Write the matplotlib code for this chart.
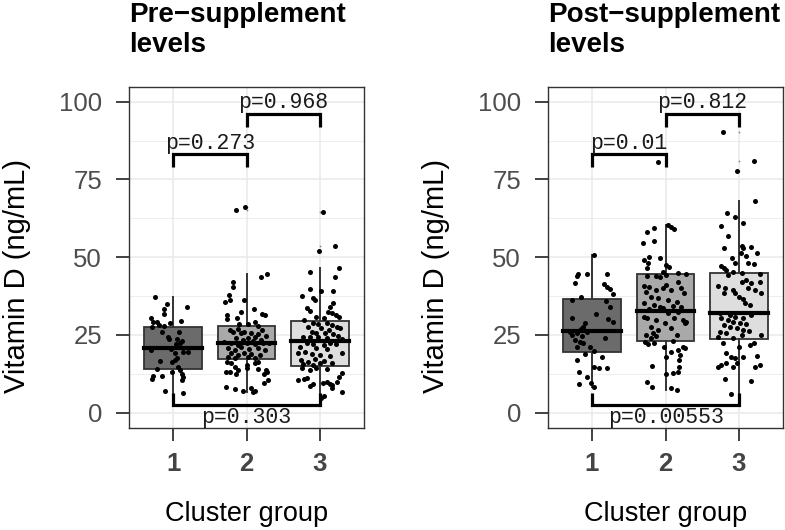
import matplotlib
matplotlib.use('Agg')
import matplotlib.pyplot as plt
import numpy as np

plt.rcParams['font.family'] = ['Liberation Sans', 'DejaVu Sans']

# ---------------- data ----------------
categories = ['1', '2', '3']
panel_titles = ['Pre\u2212supplement\nlevels', 'Post\u2212supplement\nlevels']
y_ticks = [0, 25, 50, 75, 100]
box_fills = ['#6b6b6b', '#a9a9a9', '#dedede']

# box statistics
pre_whislo = [6.4, 6.8, 4.6]
pre_q1 = [14.2, 17.2, 15.1]
pre_med = [20.7, 22.3, 23.0]
pre_q3 = [27.7, 28.0, 29.6]
pre_whishi = [37.1, 44.6, 46.4]
pre_fliers = [[], [65.2, 66.0], [52.0, 53.7, 64.6]]

post_whislo = [8.2, 7.3, 6.0]
post_q1 = [19.6, 23.2, 23.7]
post_med = [26.3, 32.8, 32.0]
post_q3 = [36.6, 44.6, 45.0]
post_whishi = [50.7, 60.4, 68.2]
post_fliers = [[], [80.7], [77.8, 81.0, 90.2]]

# individual observations and their horizontal jitter
pre_g1_vals = [37.1, 34.9, 33.3, 33.9, 31.7, 30.5, 29.3, 29.1, 28.7, 29.5, 28.2, 27.9, 27.7,
               25.8, 24.4, 25.8, 23.8, 23.6, 23.2, 22.1, 22.3, 19.6, 19.6, 20.4, 19.1, 20.2,
               16.7, 17.5, 16.4, 16.9, 14.8, 14.2, 13.2, 13.7, 12.4, 11.9, 11.9, 11.4, 10.7,
               10.5, 7.0, 6.4]
pre_g1_jit = [-0.24, -0.08, -0.12, 0.19, -0.12, -0.30, -0.27, -0.22, -0.04, 0.11, -0.19, -0.13, -0.29,
              -0.15, -0.07, 0.08, -0.06, 0.06, 0.12, 0.04, 0.10, 0.20, 0.14, -0.03, 0.02, -0.30,
              -0.18, 0.05, -0.02, 0.03, 0.07, -0.22, -0.02, 0.10, 0.12, -0.27, -0.15, 0.14, -0.29,
              0.12, -0.11, 0.14]

pre_g2_vals = [65.2, 66.0, 43.7, 44.6, 42.1, 40.3, 37.8, 36.2, 35.5, 36.2, 33.5, 31.4, 32.5, 31.7,
               31.4, 30.0, 30.3, 29.3, 28.5, 28.5, 28.0, 26.6,
               26.6, 25.8, 26.8, 25.5, 26.0, 25.5, 24.4, 25.2, 24.7, 23.9, 23.4, 23.9, 23.2, 23.4,
               22.8, 22.3, 21.8, 22.3, 22.1, 22.3, 22.3, 20.7, 20.2, 21.0, 20.4, 20.7, 20.2, 19.3,
               18.5, 19.1, 18.9, 18.5, 18.0, 17.5, 17.8, 17.5,
               16.4, 15.9, 14.8, 15.3, 16.1, 16.4, 13.7, 13.2, 13.9, 13.7, 14.3, 13.2, 12.4, 13.2,
               12.4, 10.5, 9.4, 8.4, 7.6, 7.1, 7.8, 6.8, 7.1]
pre_g2_jit = [-0.14, -0.02, 0.20, 0.28, -0.18, -0.18, -0.24, -0.22, -0.29, -0.04, 0.10, -0.26, -0.08, 0.21,
              0.25, -0.26, -0.13, 0.11, -0.10, 0.02, 0.15, 0.21,
              -0.23, -0.19, -0.12, -0.07, -0.03, 0.06, 0.11, 0.15, 0.27, -0.14, -0.05, 0.02, 0.09, 0.20,
              -0.31, -0.21, -0.12, 0.00, 0.11, 0.22, 0.31, -0.25, -0.16, -0.07, 0.04, 0.15, 0.25, -0.21,
              -0.12, -0.03, 0.06, 0.18, -0.25, -0.16, 0.02, 0.11,
              -0.26, -0.21, -0.15, 0.00, 0.11, 0.15, -0.12, -0.23, 0.15, 0.27, 0.01, -0.28, -0.14, 0.28,
              0.24, 0.29, 0.24, -0.28, -0.15, -0.05, 0.06, 0.09, 0.12]

pre_g3_vals = [64.6, 53.7, 52.0, 46.4, 45.1, 43.7, 39.7, 37.6, 36.8, 39.2, 39.2, 36.2, 35.2, 34.1,
               33.6, 32.8, 32.5, 32.0, 31.4, 30.9, 30.9, 29.8, 30.3,
               28.9, 28.5, 28.7, 28.2, 27.7, 27.1, 27.7, 27.1, 26.6, 26.0, 25.5, 25.7, 25.3, 24.7,
               24.4, 24.2, 24.4, 23.9, 23.6, 22.3, 22.1, 21.8, 22.3, 22.1, 21.2, 20.7, 20.4, 19.1,
               19.3, 19.6, 18.9, 18.5, 18.2, 16.9, 16.4, 17.2, 16.7, 16.1, 15.7, 15.3, 15.9,
               14.3, 13.7, 14.3, 14.0, 12.9, 10.5, 10.7, 11.3, 9.2, 8.6, 9.7, 9.8, 8.9, 10.0,
               11.6, 6.8, 7.8, 5.4, 4.6, 9.2]
pre_g3_jit = [0.04, 0.20, -0.01, 0.26, -0.14, 0.20, -0.14, -0.24, -0.09, 0.01, 0.18, -0.07, 0.18, 0.14,
              -0.18, -0.13, 0.11, 0.17, 0.22, 0.26, -0.05, -0.22, 0.05,
              -0.09, -0.02, 0.09, 0.16, 0.23, 0.27, -0.16, 0.02, 0.13, -0.11, -0.05, 0.07, 0.18, 0.25,
              -0.23, -0.14, -0.02, 0.09, 0.30, -0.18, -0.09, 0.05, 0.14, 0.22, -0.27, -0.05, 0.09, 0.30,
              -0.30, -0.20, -0.11, 0.00, 0.14, -0.26, -0.16, -0.07, 0.05, 0.16, -0.23, -0.09, 0.00,
              -0.25, -0.14, -0.05, 0.09, 0.30, -0.30, -0.22, -0.17, -0.09, -0.14, 0.04, 0.09, 0.16, 0.23,
              0.26, 0.30, 0.16, 0.05, 0.02, 0.14]

post_g1_vals = [50.7, 43.9, 44.6, 44.5, 44.5, 41.6, 41.4, 40.5, 39.7, 38.2, 37.3, 36.2, 35.9, 33.9,
                31.6, 30.3, 30.0, 29.3, 28.7, 27.4, 26.8, 26.1, 25.5, 26.1, 25.0, 24.7, 23.9, 23.4,
                22.8, 21.0, 22.3, 21.2, 19.8, 18.9, 17.8, 16.9, 14.6, 14.3, 14.5, 13.0, 11.4, 9.1,
                9.4, 8.2]
post_g1_jit = [0.03, -0.20, -0.19, -0.07, 0.21, -0.23, 0.16, 0.21, 0.24, 0.29, -0.15, -0.27, 0.19, 0.25,
               0.06, -0.27, 0.22, 0.28, -0.10, -0.12, -0.15, -0.30, -0.21, -0.07, -0.28, -0.14, 0.17, -0.23,
               -0.16, -0.20, -0.12, -0.03, 0.03, -0.10, 0.13, -0.20, 0.02, 0.10, 0.20, -0.18, -0.07, -0.18,
               -0.02, 0.03]

post_g2_vals = [80.7, 60.4, 59.8, 59.0, 59.3, 58.2, 54.5, 55.3, 49.1, 50.0, 49.9, 48.0, 46.4, 47.5,
                46.7, 45.3, 44.8, 44.6, 44.0, 44.0, 43.7, 44.3,
                40.7, 40.3, 41.1, 42.1, 40.0, 38.9, 39.5, 40.0, 39.5, 38.4, 37.3, 36.8, 36.2, 35.7,
                35.2, 34.6, 34.1, 34.3, 34.1, 33.2, 33.6, 32.0, 32.5, 30.7, 30.4, 29.8, 30.4, 29.8,
                28.7, 29.3, 28.7, 27.7, 27.1, 26.6, 25.0, 25.0, 25.7, 24.7, 23.9, 22.8,
                22.1, 22.5, 23.2, 21.2, 20.2, 19.6, 21.0, 20.7, 18.6, 18.0, 15.0, 17.0, 14.8, 12.4,
                12.9, 13.2, 10.0, 8.2, 7.8, 7.3]
post_g2_jit = [-0.10, 0.03, 0.08, 0.12, -0.16, -0.25, -0.30, -0.15, -0.29, -0.22, -0.08, -0.24, -0.25, 0.01,
               0.05, -0.04, 0.17, 0.28, -0.25, -0.13, -0.08, 0.01,
               -0.29, -0.22, 0.01, 0.17, 0.21, -0.26, -0.13, -0.04, 0.08, 0.25, -0.20, -0.10, 0.03, 0.15,
               -0.29, -0.15, -0.07, 0.10, 0.21, -0.22, -0.04, 0.03, 0.17, -0.29, -0.25, -0.13, 0.12, 0.24,
               0.26, 0.28, -0.01, -0.20, 0.08, -0.10, 0.15, -0.26, -0.17, -0.13, -0.20, -0.28,
               -0.24, -0.15, 0.10, -0.02, 0.17, 0.08, 0.24, 0.26, 0.20, 0.01, -0.19, 0.19, 0.19, 0.01,
               0.10, 0.17, -0.25, -0.19, 0.08, 0.16]

post_g3_vals = [90.2, 81.0, 77.8, 68.2, 64.3, 63.0, 60.0, 61.1, 56.8, 52.9, 53.6, 52.9, 53.4, 51.5,
                51.2, 49.6, 50.4, 48.2, 48.0, 47.8, 47.2, 46.6, 45.9, 45.4,
                44.8, 44.6, 44.3, 42.7, 42.1, 41.8, 42.1, 40.6, 40.0, 39.5, 40.0, 39.5, 38.6, 38.4,
                37.3, 36.5, 35.2, 34.6, 38.4, 32.0, 31.4, 30.9, 30.3, 31.4, 30.3, 29.8, 29.3, 28.9,
                28.5, 28.2, 27.7, 27.1, 26.6, 26.4, 26.1, 25.5, 25.0, 25.0, 24.4, 23.9,
                22.5, 21.2, 21.8, 22.3, 19.1, 18.0, 17.5, 18.0, 18.2, 14.8, 15.3, 15.9, 14.8, 15.9,
                14.6, 15.3, 10.7, 10.3, 6.0]
post_g3_jit = [-0.22, 0.20, -0.02, 0.22, -0.16, -0.06, -0.25, 0.05, -0.15, -0.20, 0.04, 0.06, 0.17, 0.24,
               0.03, -0.10, 0.10, -0.05, 0.13, 0.20, -0.25, -0.20, -0.17, -0.08,
               0.04, 0.28, -0.15, 0.10, 0.04, 0.17, 0.28, -0.28, -0.19, -0.08, 0.13, 0.22, -0.21, -0.05,
               0.00, 0.06, 0.08, 0.15, 0.30, -0.26, -0.12, -0.05, 0.06, 0.17, -0.24, -0.15, -0.08, 0.01,
               0.10, -0.21, -0.12, -0.03, 0.06, 0.14, -0.26, -0.17, 0.04, 0.30, -0.28, -0.08,
               -0.22, 0.00, 0.15, 0.20, -0.17, -0.11, -0.05, 0.06, 0.24, -0.28, -0.24, -0.17, -0.08, -0.03,
               0.22, 0.29, -0.19, 0.16, -0.11]

# significance brackets
comparisons = [(1, 2), (2, 3), (1, 3)]
bracket_levels = [83.1, 96.0, 2.5]
pre_pvals = ['p=0.273', 'p=0.968', 'p=0.303']
post_pvals = ['p=0.01', 'p=0.812', 'p=0.00553']

panels = [
    dict(title=panel_titles[0], whislo=pre_whislo, q1=pre_q1, med=pre_med, q3=pre_q3,
         whishi=pre_whishi, fliers=pre_fliers,
         vals=[pre_g1_vals, pre_g2_vals, pre_g3_vals], jit=[pre_g1_jit, pre_g2_jit, pre_g3_jit],
         pvals=pre_pvals),
    dict(title=panel_titles[1], whislo=post_whislo, q1=post_q1, med=post_med, q3=post_q3,
         whishi=post_whishi, fliers=post_fliers,
         vals=[post_g1_vals, post_g2_vals, post_g3_vals], jit=[post_g1_jit, post_g2_jit, post_g3_jit],
         pvals=post_pvals),
]

# ---------------- figure ----------------
W, H = 785, 530
fig = plt.figure(figsize=(W / 100, H / 100), dpi=100)

axes_px = [(129, 87, 364, 428), (548, 87, 783, 428)]
ylab_x = [17, 436]

for p, (x0, y0, x1, y1), ylx in zip(panels, axes_px, ylab_x):
    ax = fig.add_axes([x0 / W, 1 - y1 / H, (x1 - x0) / W, (y1 - y0) / H])
    positions = np.arange(1, len(categories) + 1)
    stats = []
    for i in range(len(categories)):
        stats.append(dict(med=p['med'][i], q1=p['q1'][i], q3=p['q3'][i],
                          whislo=p['whislo'][i], whishi=p['whishi'][i], fliers=p['fliers'][i]))
    bp = ax.bxp(stats, positions=positions, widths=0.78, patch_artist=True, showcaps=False,
                boxprops=dict(edgecolor='#333333', linewidth=1.3),
                whiskerprops=dict(color='#333333', linewidth=1.4),
                medianprops=dict(color='black', linewidth=3.0, solid_capstyle='projecting'),
                flierprops=dict(marker='o', markersize=1.3, markerfacecolor='#888888',
                                markeredgecolor='none'),
                zorder=2)
    for patch, c in zip(bp['boxes'], box_fills):
        patch.set_facecolor(c)

    for pos, v, j in zip(positions, p['vals'], p['jit']):
        ax.scatter(pos + np.array(j), v, s=13, c='black', linewidths=0, zorder=4)

    for (a, b), lvl, lab in zip(comparisons, bracket_levels, p['pvals']):
        if lvl > 50:
            ys = [lvl - 4.1, lvl, lvl, lvl - 4.1]
            ty = lvl + 3.6
        else:
            ys = [lvl + 3.8, lvl, lvl, lvl + 3.8]
            ty = lvl - 4.2
        ax.plot([a, a, b, b], ys, color='black', lw=2.3, zorder=5, solid_capstyle='butt',
                solid_joinstyle='miter')
        ax.text((a + b) / 2, ty, lab, ha='center', va='center', fontsize=15.5,
                family=['Liberation Mono', 'DejaVu Sans Mono'], color='#1a1a1a', zorder=6)

    ax.set_xlim(0.4, 3.6)
    ax.set_ylim(-4.92, 104.73)
    ax.set_xticks(positions)
    ax.set_xticklabels(categories, fontweight='bold', color='#444444')
    ax.set_yticks(y_ticks)
    ax.set_yticks([12.5, 37.5, 62.5, 87.5], minor=True)
    ax.grid(which='major', color='#ebebeb', lw=1.2)
    ax.grid(which='minor', axis='y', color='#ebebeb', lw=0.6)
    ax.set_axisbelow(True)
    ax.tick_params(axis='both', which='major', length=9.5, width=1.3, color='#333333',
                   labelsize=18.5, labelcolor='#4d4d4d')
    ax.tick_params(axis='y', which='major', pad=10)
    ax.tick_params(axis='x', which='major', pad=8)
    ax.tick_params(which='minor', length=0)
    for lbl in ax.get_xticklabels():
        lbl.set_color('#444444')
    for s in ax.spines.values():
        s.set_color('#333333')
        s.set_linewidth(1.0)

    fig.text(x0 / W, 1 - 2 / H, p['title'], ha='left', va='top', fontsize=20,
             fontweight='bold', linespacing=1.2)
    fig.text((x0 + x1) / 2 / W, 1 - 514 / H, 'Cluster group', ha='center', va='center',
             fontsize=19.5)
    fig.text(ylx / W, 1 - 276 / H, 'Vitamin D (ng/mL)', ha='center', va='center',
             rotation=90, fontsize=21)

fig.savefig('out.png', dpi=100)
